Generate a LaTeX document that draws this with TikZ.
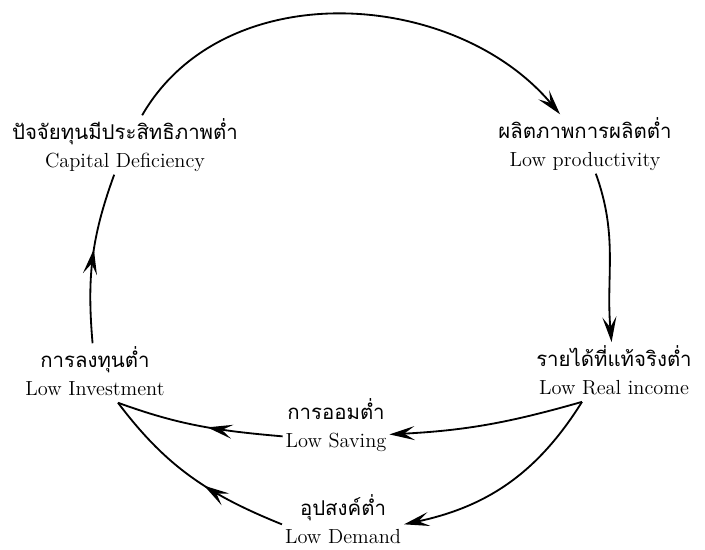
\documentclass[tikz,border=0pt]{standalone}
\usepackage{fontspec}
\newfontfamily\thaifont[Script=Thai]{Loma}
\usepackage{tikz}
\usetikzlibrary{arrows.meta,calc,decorations.markings}
\newcommand{\thtext}[1]{{\thaifont #1}}

\begin{document}
\begin{tikzpicture}[x=0.025cm, y=0.025cm, >={Stealth[length=18pt,width=10pt,inset=7.5pt]},
    concept/.style={align=center, inner sep=2pt, font=\fontsize{14.5}{20}\selectfont},
    link/.style={line width=1.3pt},
    midarrow/.style={postaction={decorate}, decoration={markings, mark=at position #1 with {\arrow{>}}}}]
    \useasboundingbox (0,0) rectangle (705,549);

    % draw the six concepts
    \node[concept] (cap) at (125,404) {\thtext{ปัจจัยทุนมีประสิทธิภาพต่ำ}\\ Capital Deficiency};
    \node[concept] (prod) at (585,405) {\thtext{ผลิตภาพการผลิตต่ำ}\\ Low productivity};
    \node[concept] (inc) at (614,179) {\thtext{รายได้ที่แท้จริงต่ำ}\\ Low Real income};
    \node[concept] (inv) at (95,178) {\thtext{การลงทุนต่ำ}\\ Low Investment};
    \node[concept] (sav) at (336,124) {\thtext{การออมต่ำ}\\ Low Saving};
    \node[concept] (dem) at (343,30) {\thtext{อุปสงค์ต่ำ}\\ Low Demand};

    % split point and meeting point
    \coordinate (split) at ($(inc.south)+(-32,-4)$);
    \coordinate (invpt) at ($(inv.south)+(23,-4)$);

    % draw the outer cycle
    \draw[link,->] (cap) to[out=60,in=130] (prod);
    \draw[link,->] (prod) to[out=-70,in=95] (inc);
    \draw[link,midarrow=0.55] (inv) to[out=95,in=-110] (cap);

    % draw the inner branches
    \draw[link,->] (split) to[out=-164,in=3] (sav.-10);
    \draw[link,->] (split) to[out=-122,in=12] (dem.-5);
    \draw[link,midarrow=0.45] (sav.192) to[out=175,in=-20] (invpt);
    \draw[link,midarrow=0.42] (dem.185) to[out=158,in=-53] (invpt);
\end{tikzpicture}
\end{document}
